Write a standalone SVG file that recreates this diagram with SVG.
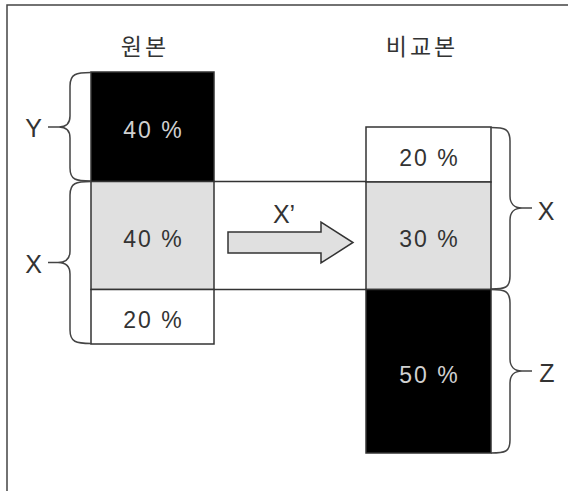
<svg xmlns="http://www.w3.org/2000/svg" width="568" height="491" viewBox="0 0 568 491">
<style>
  .box { stroke: #333; stroke-width: 1.5; }
  .black { fill: #000; }
  .gray { fill: #e0e0e0; }
  .white { fill: #fff; }
  .pct { font-family: "Liberation Sans", Arial, sans-serif; font-size: 23px; letter-spacing: 2px; text-anchor: middle; }
  .pct-dark { fill: #333; }
  .pct-light { fill: #d0d0d0; }
  .title { font-family: "Noto Sans CJK KR", "Liberation Sans", sans-serif; font-size: 23px; letter-spacing: 3px; text-anchor: middle; fill: #333; }
  .lbl { font-family: "Liberation Sans", Arial, sans-serif; font-size: 25px; text-anchor: middle; fill: #333; }
  .brace { fill: none; stroke: #444; stroke-width: 1.5; }
  .line { fill: none; stroke: #333; stroke-width: 1.5; }
</style>
<rect x="0" y="0" width="568" height="491" fill="#fff"/>
<path d="M7,491 V5 H568" fill="none" stroke="#444" stroke-width="1.5"/>

<text class="title" x="145" y="55">원본</text>
<text class="title" x="422" y="55">비교본</text>

<g id="connectors">
  <path class="line" d="M214,181.5 H366 M214,289.5 H366"/>
  <polygon points="228,232 321,232 321,222 353,242.5 321,263 321,253 228,253" fill="#e0e0e0" stroke="#333" stroke-width="1.5"/>
  <text class="lbl" x="284" y="223">X’</text>
</g>

<g id="orig-y">
  <rect class="box black" x="91" y="72" width="123" height="109.5"/>
  <text class="pct pct-light" x="153.5" y="138">40 %</text>
</g>
<g id="orig-x">
  <rect class="box gray" x="91" y="181.5" width="123" height="108"/>
  <text class="pct pct-dark" x="153.5" y="247">40 %</text>
</g>
<g id="orig-rest">
  <rect class="box white" x="91" y="289.5" width="123" height="54.5"/>
  <text class="pct pct-dark" x="153.5" y="328">20 %</text>
</g>

<g id="comp-top">
  <rect class="box white" x="366" y="127" width="125" height="55"/>
  <text class="pct pct-dark" x="429.5" y="166">20 %</text>
</g>
<g id="comp-x">
  <rect class="box gray" x="366" y="182" width="125" height="107.5"/>
  <text class="pct pct-dark" x="429.5" y="247">30 %</text>
</g>
<g id="comp-z">
  <rect class="box black" x="366" y="289.5" width="125" height="163.5"/>
  <text class="pct pct-light" x="429.5" y="383">50 %</text>
</g>

<g id="brace-y">
  <path class="brace" d="M91,72.5 C76,72.5 70,74 70,86 V116 C70,123 66,127 59,127 H48 M59,127 C66,127 70,131 70,138 V168 C70,180 76,181 91,181"/>
  <text class="lbl" x="33.5" y="137">Y</text>
</g>
<g id="brace-x-left">
  <path class="brace" d="M91,181.5 C76,181.5 70,183 70,195 V251 C70,258 66,262.5 58,262.5 H48 M58,262.5 C66,262.5 70,267 70,274 V330 C70,342 76,343.5 91,343.5"/>
  <text class="lbl" x="33.5" y="273">X</text>
</g>
<g id="brace-x-right">
  <path class="brace" d="M491,127.5 C505,127.5 510,129 510,141 V196 C510,203 514,208 522,208 H532 M522,208 C514,208 510,213 510,220 V276 C510,288 505,289 491,289"/>
  <text class="lbl" x="546" y="220">X</text>
</g>
<g id="brace-z">
  <path class="brace" d="M491,289.5 C505,289.5 510,291 510,303 V359 C510,366 514,371 522,371 H532 M522,371 C514,371 510,376 510,383 V440 C510,452 505,453 491,453"/>
  <text class="lbl" x="547" y="382">Z</text>
</g>
</svg>
